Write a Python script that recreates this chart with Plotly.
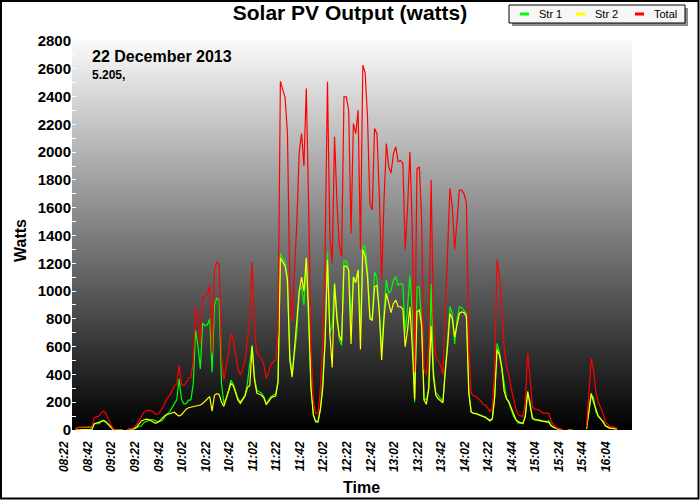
import plotly.graph_objects as go

# ---------------- data ----------------
tick_labels = ["08:22", "08:42", "09:02", "09:22", "09:42", "10:02", "10:22", "10:42",
               "11:02", "11:22", "11:42", "12:02", "12:22", "12:42", "13:02", "13:22",
               "13:42", "14:02", "14:22", "14:44", "15:04", "15:24", "15:44", "16:04"]
label_step = 10  # one time label every 10 samples

str1 = [5, 18, 18, 18, 18, 18, 18, 20, 45, 45,
        45, 63, 70, 60, 40, 25, 7, 0, 0, 0,
        0, None, 0, 0, 2, 8, 18, 25, 30, 53,
        60, 67, 75, 73, 64, 60, 62, 72, 95, 118,
        130, 165, 190, 218, 368, 220, 188, 190, 215, 217,
        332, 717, 605, 440, 770, 750, 758, 800, 416, 900,
        949, 935, 330, 190, 230, 285, 359, 332, 275, 225,
        204, 225, 255, 335, 480, 611, 380, 286, 275, 265,
        240, 185, 215, 240, 252, 259, 360, 1270, 1240, 1210,
        1050, 550, 400, 550, 700, 1000, 1034, 900, 1218, 750,
        300, 106, 60, 55, 150, 350, 660, 1283, 700, 750,
        1060, 850, 650, 610, 1218, 1218, 1150, 795, 1106, 1074,
        1152, 720, 1326, 1320, 1150, 831, 793, 1139, 1094, 850,
        575, 850, 1079, 983, 1005, 1079, 1103, 1043, 1053, 1048,
        700, 881, 1113, 850, 200, 1030, 1031, 750, 225, 215,
        300, 1050, 420, 270, 250, 230, 205, 420, 695, 887,
        840, 620, 791, 887, 880, 860, 839, 288, 130, 120,
        120, 113, 105, 100, 95, 80, 62, 80, 240, 623,
        560, 450, 320, 230, 195, 140, 100, 75, 50, 50,
        51, 100, 276, 200, 80, 75, 73, 74, 63, 60,
        62, 65, 30, 16, 10, 6, 4, 0, None, 0,
        0, 0, None, None, None, None, None, 10, 140, 252,
        232, 130, 100, 80, 60, 30, 20, 12, 12, 8, 6]

str2 = [0, 2, 2, 2, 2, 2, 2, 5, 45, 50,
        55, 62, 67, 55, 35, 15, 3, 0, 0, 0,
        0, None, 3, 5, 8, 12, 22, 45, 65, 72,
        78, 75, 65, 57, 48, 55, 70, 88, 105, 112,
        118, 125, 128, 112, 100, 110, 132, 150, 160, 163,
        168, 170, 175, 180, 190, 210, 225, 240, 135, 250,
        262, 255, 200, 170, 220, 275, 336, 318, 265, 215,
        192, 215, 245, 305, 320, 600, 360, 265, 255, 250,
        230, 185, 205, 230, 240, 245, 340, 1240, 1210, 1180,
        1084, 500, 380, 600, 800, 1000, 1100, 1000, 1240, 850,
        300, 110, 60, 65, 150, 300, 640, 1223, 700, 450,
        1050, 800, 680, 640, 1180, 1180, 1150, 620, 1100, 1060,
        1150, 580, 1300, 1250, 1100, 800, 790, 1031, 1040, 850,
        504, 800, 983, 911, 845, 911, 935, 887, 887, 870,
        600, 719, 887, 600, 220, 850, 863, 750, 215, 185,
        300, 750, 380, 250, 225, 210, 195, 420, 600, 839,
        800, 670, 743, 839, 850, 845, 815, 264, 130, 120,
        118, 112, 105, 96, 90, 80, 70, 80, 240, 580,
        540, 450, 280, 226, 205, 160, 120, 75, 60, 50,
        45, 100, 276, 180, 90, 75, 72, 70, 62, 60,
        58, 55, 30, 20, 10, 6, 4, 0, None, 0,
        0, 0, None, None, None, None, None, 10, 160, 264,
        200, 140, 100, 80, 60, 30, 20, 12, 12, 7, 6]

total = [5, 20, 20, 20, 20, 20, 20, 25, 90, 95,
         100, 125, 137, 115, 75, 40, 10, 0, 0, 0,
         0, None, 3, 5, 10, 20, 40, 70, 95, 125,
         138, 142, 140, 130, 112, 115, 132, 160, 200, 230,
         248, 290, 318, 330, 468, 330, 320, 340, 375, 380,
         500, 887, 780, 620, 960, 960, 983, 1040, 551, 1150,
         1211, 1190, 530, 360, 450, 560, 695, 650, 540, 440,
         396, 440, 500, 640, 800, 1211, 740, 551, 530, 515,
         470, 370, 420, 470, 492, 504, 700, 2510, 2450, 2390,
         2134, 1050, 780, 1150, 1500, 2000, 2134, 1900, 2458, 1600,
         600, 216, 120, 120, 300, 650, 1300, 2506, 1400, 1200,
         2110, 1650, 1330, 1250, 2398, 2398, 2300, 1415, 2206, 2134,
         2302, 1300, 2626, 2570, 2250, 1631, 1583, 2170, 2134, 1700,
         1079, 1650, 2062, 1894, 1850, 1990, 2038, 1930, 1940, 1918,
         1300, 1600, 2000, 1450, 420, 1880, 1894, 1500, 440, 400,
         600, 1800, 800, 520, 500, 468, 400, 839, 1295, 1740,
         1607, 1300, 1500, 1726, 1726, 1700, 1631, 600, 264, 245,
         240, 225, 210, 185, 180, 160, 132, 160, 450, 1223,
         1100, 900, 600, 456, 400, 300, 220, 150, 110, 100,
         96, 200, 552, 380, 170, 150, 145, 144, 125, 120,
         120, 120, 60, 36, 20, 12, 8, 0, None, 0,
         0, 0, None, None, None, None, None, 20, 300, 516,
         432, 270, 200, 160, 120, 60, 40, 24, 24, 15, 12]

series_names = ["Str 1", "Str 2", "Total"]
series_colors = ["#00ff00", "#ffff00", "#ff0000"]
date_text = "22 December 2013"
sub_text = "5.205,"

# ---------------- layout helpers ----------------
W, H = 700, 500
L, R, T, B = 72, 632, 41, 430


def px(xp):
    return (xp - L) / (R - L)


def py(yp):
    return (B - yp) / (B - T)


n = len(total)
xs = list(range(n))
tickvals = list(range(0, n, label_step))

fig = go.Figure()
for name, col, ys in zip(series_names, series_colors, [str1, str2, total]):
    fig.add_trace(go.Scatter(x=xs, y=ys, mode="lines", name=name,
                             line=dict(color=col, width=1.2),
                             showlegend=False, connectgaps=False,
                             hoverinfo="skip"))

shapes = []
# vertical grey gradient behind the plot
NB = 130
for i in range(NB):
    t = (i + 0.5) / NB
    g = int(round(250 * t))
    shapes.append(dict(type="rect", xref="paper", yref="paper",
                       x0=0, x1=1, y0=i / NB, y1=(i + 1) / NB + 0.002,
                       fillcolor=f"rgb({g},{g},{g})", line=dict(width=0),
                       layer="below"))

# outer frame
shapes.append(dict(type="rect", xref="paper", yref="paper",
                   x0=px(1), x1=px(698.5), y0=py(498.5), y1=py(1),
                   line=dict(color="black", width=2), fillcolor="rgba(0,0,0,0)",
                   layer="above"))

# legend box with shadow
lx0, lx1, ly0, ly1 = 509, 685, 5, 23
shapes.append(dict(type="rect", xref="paper", yref="paper",
                   x0=px(lx0 + 3), x1=px(lx1 + 3), y0=py(ly1 + 3), y1=py(ly0 + 3),
                   fillcolor="#8c8c8c", line=dict(width=0)))
shapes.append(dict(type="rect", xref="paper", yref="paper",
                   x0=px(lx0), x1=px(lx1), y0=py(ly1), y1=py(ly0),
                   fillcolor="#f6f6f6", line=dict(color="black", width=1)))
annotations = []
item_x = [520, 576, 635]
for name, col, ix in zip(series_names, series_colors, item_x):
    shapes.append(dict(type="line", xref="paper", yref="paper",
                       x0=px(ix), x1=px(ix + 9), y0=py(14), y1=py(14),
                       line=dict(color=col, width=3)))
    annotations.append(dict(xref="paper", yref="paper", x=px(ix + 17), y=py(14),
                            xanchor="left", yanchor="middle", showarrow=False,
                            text=name,
                            font=dict(family="Liberation Sans, Arial", size=11,
                                      color="black")))

annotations += [
    dict(xref="paper", yref="paper", x=px(90), y=py(57), xanchor="left",
         yanchor="middle", showarrow=False, text=date_text,
         font=dict(family="Liberation Sans, Arial", size=16, color="black",
                   weight="bold")),
    dict(xref="paper", yref="paper", x=px(90), y=py(75), xanchor="left",
         yanchor="middle", showarrow=False, text=sub_text,
         font=dict(family="Liberation Sans, Arial", size=12, color="black",
                   weight="bold")),
    dict(xref="paper", yref="paper", x=px(361), y=py(487), xanchor="center",
         yanchor="middle", showarrow=False, text="Time",
         font=dict(family="Liberation Sans, Arial", size=16, color="black",
                   weight="bold")),
    dict(xref="paper", yref="paper", x=px(20), y=py(241), xanchor="center",
         yanchor="middle", showarrow=False, text="Watts", textangle=-90,
         font=dict(family="Liberation Sans, Arial", size=16, color="black",
                   weight="bold")),
]

ppi = 2.355  # pixels per sample
span = (R - L) / ppi
x0r = -(75.5 - L) / ppi

fig.update_layout(
    width=W, height=H,
    margin=dict(l=L, r=W - R, t=T, b=H - B, pad=0),
    paper_bgcolor="white", plot_bgcolor="black",
    hovermode=False,
    title=dict(text="Solar PV Output (watts)", x=0.5, xref="container",
               xanchor="center", y=1 - 13 / H, yref="container", yanchor="middle",
               font=dict(family="Liberation Sans, Arial", size=21, color="black",
                         weight="bold")),
    xaxis=dict(range=[x0r, x0r + span], tickmode="array", tickvals=tickvals,
               ticktext=tick_labels, tickangle=-90, ticks="", showgrid=False,
               zeroline=False, showline=False, ticklabelshift=-11,
               ticklabelstandoff=8,
               tickfont=dict(family="Liberation Sans, Arial", size=12,
                             color="black", weight="bold", style="italic")),
    yaxis=dict(range=[0, 2800], dtick=200, tick0=0, ticks="inside", ticklen=4,
               tickcolor="white", tickwidth=1, showgrid=False, zeroline=False,
               showline=False,
               minor=dict(dtick=100, ticks="inside", ticklen=4, tickcolor="white"),
               tickfont=dict(family="Liberation Sans, Arial", size=15,
                             color="black", weight="bold")),
    shapes=shapes, annotations=annotations, showlegend=False,
)

fig.write_html("out.html",
               config={"displayModeBar": False, "staticPlot": True},
               post_script="document.body.style.margin='0';"
                           "document.body.style.overflow='hidden';")
